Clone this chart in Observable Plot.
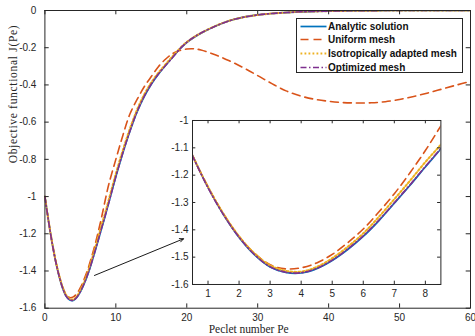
<!DOCTYPE html>
<html><head><meta charset="utf-8">
<script src="https://cdn.jsdelivr.net/npm/d3@7"></script>
<script src="https://cdn.jsdelivr.net/npm/@observablehq/plot@0.6"></script>
<style>
body{margin:0;background:#fff;}
#wrap{position:relative;width:475px;height:336px;overflow:hidden;font-family:"Liberation Sans",Arial,sans-serif;}
#wrap svg{position:absolute;}
#legend{position:absolute;left:295.5px;top:18.3px;width:167px;height:54.5px;box-sizing:border-box;border:1px solid #262626;background:#fff;}
.lrow{position:absolute;left:0;height:13px;display:flex;align-items:center;}
.lrow span{font:bold 10px "Liberation Sans",Arial,sans-serif;color:#111;white-space:nowrap;margin-left:1.5px;}
</style></head><body><div id="wrap"></div>
<script>
// ---- data ----
const pe = [0,0.5,1,1.5,2,2.5,3,3.5,4,4.5,5,5.5,6,6.5,7,7.5,8,8.5,
  9,10,11,12,13,14,15,16,17,18,19,20,21,22,
  24,26,28,30,32,34,36,38,40,42,44,46,48,50,52,54,56,58,60];
const analytic = [-1.000,-1.128,-1.245,-1.345,-1.428,-1.492,-1.536,-1.556,-1.558,-1.542,-1.512,-1.472,-1.424,-1.367,-1.303,-1.238,-1.170,-1.104,
  -1.034,-0.894,-0.765,-0.648,-0.545,-0.463,-0.396,-0.342,-0.295,-0.251,-0.208,-0.172,-0.145,-0.122,
  -0.085,-0.055,-0.036,-0.024,-0.016,-0.011,-0.007,-0.005,-0.003,-0.002,-0.001,-0.001,0,0,0,0,0,0,0];
const uniform = [-1.000,-1.128,-1.243,-1.342,-1.424,-1.486,-1.528,-1.543,-1.539,-1.521,-1.490,-1.447,-1.397,-1.335,-1.268,-1.192,-1.110,-1.020,
  -0.935,-0.800,-0.670,-0.555,-0.478,-0.410,-0.355,-0.302,-0.262,-0.232,-0.215,-0.207,-0.206,-0.212,
  -0.238,-0.270,-0.308,-0.350,-0.393,-0.432,-0.459,-0.477,-0.488,-0.495,-0.497,-0.496,-0.490,-0.478,-0.462,-0.443,-0.422,-0.401,-0.381];
const isotropic = [-1.000,-1.128,-1.243,-1.342,-1.424,-1.487,-1.530,-1.550,-1.553,-1.536,-1.504,-1.462,-1.413,-1.353,-1.288,-1.221,-1.152,-1.088,
  -1.018,-0.878,-0.750,-0.634,-0.533,-0.452,-0.387,-0.335,-0.290,-0.246,-0.205,-0.170,-0.143,-0.121,
  -0.084,-0.055,-0.036,-0.024,-0.016,-0.011,-0.007,-0.005,-0.003,-0.002,-0.001,-0.001,0,0,0,0,0,0,0];
const optimized = [-1.000,-1.129,-1.246,-1.345,-1.427,-1.491,-1.535,-1.555,-1.557,-1.541,-1.511,-1.470,-1.422,-1.365,-1.301,-1.236,-1.168,-1.102,
  -1.034,-0.892,-0.763,-0.646,-0.543,-0.461,-0.395,-0.341,-0.296,-0.253,-0.207,-0.171,-0.144,-0.121,
  -0.085,-0.055,-0.036,-0.024,-0.016,-0.011,-0.007,-0.005,-0.003,-0.002,-0.001,-0.001,0,0,0,0,0,0,0];
const seriesNames = ["Analytic solution","Uniform mesh","Isotropically adapted mesh","Optimized mesh"];
const mainXTicks = [0,10,20,30,40,50,60];
const mainYTicks = [0,-0.2,-0.4,-0.6,-0.8,-1,-1.2,-1.4,-1.6];
const insetXTicks = [1,2,3,4,5,6,7,8];
const insetYTicks = [-1,-1.1,-1.2,-1.3,-1.4,-1.5,-1.6];
const insetXDomain = [0.5, 8.5];
const insetYDomain = [-1.6, -1];
const arrowData = [{x1: 6.99, y1: -1.424, x2: 19.54, y2: -1.227}];
const xLabel = "Peclet number Pe";
const yLabel = "Objective functional J(Pe)";

// ---- styles ----
const seriesColors = ["#0072BD","#D95319","#EDB120","#7E2F8E"];
const seriesDash = [null, "8,5", "1.8,2.2", "6,2.5,1.5,2.5"];
const seriesWidth = [1.7, 1.6, 2.1, 1.6];
const axisColor = "#262626";
const fmt = d => String(d);

const allSeries = [analytic, uniform, isotropic, optimized].map((vals, s) =>
  pe.map((p, i) => ({pe: p, j: vals[i], s})));

function lineMarks(filter) {
  return allSeries.map((rows, s) => Plot.line(filter ? rows.filter(filter) : rows, {
    x: "pe", y: "j", stroke: seriesColors[s], strokeWidth: seriesWidth[s],
    strokeDasharray: seriesDash[s], curve: "catmull-rom", clip: true
  }));
}

const wrap = document.getElementById("wrap");

// ---- main chart ----
const W = 475, H = 336, mL = 44.4, mR = 5, mT = 10, mB = 28.3;
const pW = W - mL - mR, pH = H - mT - mB;
const serif = '"Liberation Serif", "Times New Roman", serif';
const main = Plot.plot({
  width: W, height: H, marginLeft: mL, marginRight: mR, marginTop: mT, marginBottom: mB,
  style: {fontFamily: '"Liberation Sans", Arial, sans-serif', fontSize: "10px", color: axisColor, background: "white", overflow: "visible"},
  x: {domain: [0, 60]},
  y: {domain: [-1.6, 0]},
  marks: [
    ...lineMarks(null),
    Plot.arrow(arrowData, {x1: "x1", y1: "y1", x2: "x2", y2: "y2", stroke: "#000", strokeWidth: 0.9, headLength: 7, headAngle: 50}),
    Plot.frame({stroke: axisColor, strokeWidth: 1}),
    Plot.axisX({ticks: mainXTicks, tickSize: 0, tickPadding: 6, tickFormat: fmt, label: null, fill: axisColor}),
    Plot.axisY({ticks: mainYTicks, tickSize: 0, tickPadding: 8.5, tickFormat: fmt, label: null, fill: axisColor}),
    Plot.tickX(mainXTicks, {x: d => d, insetTop: pH - 4.3, stroke: axisColor}),
    Plot.tickX(mainXTicks, {x: d => d, insetBottom: pH - 4.3, stroke: axisColor}),
    Plot.tickY(mainYTicks, {y: d => d, insetRight: pW - 4.3, stroke: axisColor}),
    Plot.tickY(mainYTicks, {y: d => d, insetLeft: pW - 4.3, stroke: axisColor}),
    Plot.text([xLabel], {text: d => d, frameAnchor: "bottom", lineAnchor: "middle", dx: -9, dy: 21.5, fontFamily: serif, fontSize: 11.5, fill: axisColor}),
    Plot.text([yLabel], {text: d => d, frameAnchor: "left", lineAnchor: "middle", rotate: -90, dx: -31.4, dy: 4, fontFamily: serif, fontSize: 11.5, fill: axisColor})
  ]
});
main.style.left = "0px"; main.style.top = "0px";
wrap.appendChild(main);
d3.select(main).selectAll("text").filter(function(){ return this.textContent === yLabel; })
  .attr("textLength", 138).attr("lengthAdjust", "spacing");
d3.select(main).selectAll("text").filter(function(){ return this.textContent === xLabel; })
  .attr("textLength", 80).attr("lengthAdjust", "spacing");

// ---- inset ----
const iL = 32, iR = 4, iT = 6, iB = 20, iPW = 248.4, iPH = 164;
const inset = Plot.plot({
  width: iL + iPW + iR, height: iT + iPH + iB, marginLeft: iL, marginRight: iR, marginTop: iT, marginBottom: iB,
  style: {fontFamily: '"Liberation Sans", Arial, sans-serif', fontSize: "10px", color: axisColor, background: "transparent", overflow: "visible"},
  x: {domain: insetXDomain},
  y: {domain: insetYDomain},
  marks: [
    Plot.frame({fill: "white"}),
    ...lineMarks(d => d.pe >= 0 && d.pe <= 9),
    Plot.frame({stroke: axisColor, strokeWidth: 1}),
    Plot.axisX({ticks: insetXTicks, tickSize: 0, tickPadding: 5.5, tickFormat: fmt, label: null, fill: axisColor}),
    Plot.axisY({ticks: insetYTicks, tickSize: 0, tickPadding: 4, tickFormat: fmt, label: null, fill: axisColor}),
    Plot.tickX(insetXTicks, {x: d => d, insetTop: iPH - 3.3, stroke: axisColor}),
    Plot.tickX(insetXTicks, {x: d => d, insetBottom: iPH - 3.3, stroke: axisColor}),
    Plot.tickY(insetYTicks, {y: d => d, insetRight: iPW - 3.3, stroke: axisColor}),
    Plot.tickY(insetYTicks, {y: d => d, insetLeft: iPW - 3.3, stroke: axisColor})
  ]
});
inset.style.left = (192.3 - iL) + "px"; inset.style.top = (120 - iT) + "px";
wrap.appendChild(inset);

// ---- legend ----
const legend = document.createElement("div");
legend.id = "legend";
const rowCenters = [7.2, 20.6, 34.4, 47.8];
seriesNames.forEach((name, s) => {
  const row = document.createElement("div");
  row.className = "lrow";
  row.style.top = (rowCenters[s] - 6.5) + "px";
  row.style.left = "3px";
  const ns = "http://www.w3.org/2000/svg";
  const sv = document.createElementNS(ns, "svg");
  sv.setAttribute("width", 27); sv.setAttribute("height", 13);
  sv.style.position = "static";
  const ln = document.createElementNS(ns, "line");
  ln.setAttribute("x1", 0.5); ln.setAttribute("x2", 26.5); ln.setAttribute("y1", 6.5); ln.setAttribute("y2", 6.5);
  ln.setAttribute("stroke", seriesColors[s]); ln.setAttribute("stroke-width", seriesWidth[s]);
  if (seriesDash[s]) ln.setAttribute("stroke-dasharray", seriesDash[s]);
  sv.appendChild(ln);
  const sp = document.createElement("span");
  sp.textContent = name;
  row.appendChild(sv); row.appendChild(sp);
  legend.appendChild(row);
});
wrap.appendChild(legend);
</script></body></html>
